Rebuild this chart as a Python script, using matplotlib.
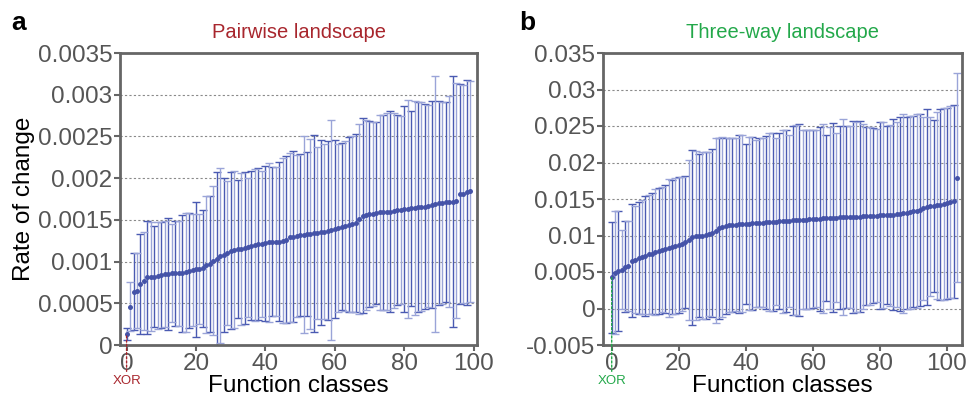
import numpy as np
import matplotlib
matplotlib.use("Agg")
import matplotlib.pyplot as plt

plt.rcParams['font.family'] = ['Liberation Sans', 'DejaVu Sans']

# ---------------- data (values in thousandths) ----------------
pair_mean = [0.13, 0.46, 0.64, 0.65, 0.73, 0.77, 0.81, 0.82, 0.82, 0.83,
             0.84, 0.85, 0.85, 0.86, 0.86, 0.86, 0.86, 0.87, 0.89, 0.90,
             0.91, 0.91, 0.92, 0.96, 0.97, 1.01, 1.03, 1.07, 1.08, 1.10,
             1.13, 1.14, 1.15, 1.15, 1.16, 1.17, 1.19, 1.20, 1.21, 1.21,
             1.22, 1.23, 1.24, 1.24, 1.24, 1.25, 1.26, 1.29, 1.30, 1.31,
             1.32, 1.32, 1.33, 1.33, 1.34, 1.34, 1.35, 1.36, 1.37, 1.38,
             1.39, 1.40, 1.42, 1.43, 1.44, 1.45, 1.46, 1.51, 1.55, 1.56,
             1.57, 1.57, 1.58, 1.59, 1.59, 1.60, 1.60, 1.61, 1.62, 1.62,
             1.63, 1.63, 1.64, 1.64, 1.65, 1.66, 1.66, 1.67, 1.68, 1.69,
             1.70, 1.70, 1.71, 1.72, 1.72, 1.73, 1.81, 1.81, 1.83, 1.84]
pair_upper = [0.20, 0.75, 1.10, 1.10, 1.33, 1.36, 1.49, 1.47, 1.43, 1.47,
              1.48, 1.49, 1.52, 1.45, 1.49, 1.49, 1.56, 1.58, 1.58, 1.57,
              1.72, 1.57, 1.62, 1.78, 1.79, 1.90, 2.07, 2.12, 2.00, 1.96,
              2.07, 2.08, 1.98, 2.06, 2.07, 2.00, 2.08, 2.11, 2.12, 2.09,
              2.15, 2.18, 2.13, 2.13, 2.19, 2.24, 2.26, 2.30, 2.32, 2.28,
              2.29, 2.50, 2.31, 2.47, 2.52, 2.37, 2.46, 2.41, 2.44, 2.70,
              2.46, 2.41, 2.42, 2.45, 2.49, 2.51, 2.53, 2.65, 2.72, 2.70,
              2.69, 2.67, 2.67, 2.76, 2.76, 2.78, 2.80, 2.78, 2.76, 2.75,
              2.86, 2.94, 2.81, 2.92, 2.91, 2.91, 2.89, 2.88, 2.92, 3.23,
              2.92, 2.91, 2.91, 2.99, 3.23, 3.14, 3.13, 3.12, 3.18, 3.16]

three_mean = [4.25, 4.93, 5.11, 5.34, 5.71, 5.80, 6.53, 6.71, 6.89, 7.08,
              7.21, 7.40, 7.53, 7.76, 7.90, 8.08, 8.17, 8.26, 8.40, 8.54,
              8.68, 8.86, 9.09, 9.36, 9.73, 10.00, 10.00, 10.00, 10.02, 10.27,
              10.37, 10.64, 10.96, 11.19, 11.28, 11.40, 11.46, 11.50, 11.55, 11.58,
              11.60, 11.62, 11.65, 11.68, 11.72, 11.76, 11.80, 11.85, 11.88, 11.91,
              11.94, 11.97, 12.00, 12.03, 12.06, 12.09, 12.12, 12.15, 12.18, 12.21,
              12.24, 12.27, 12.31, 12.34, 12.37, 12.40, 12.43, 12.46, 12.48, 12.50,
              12.52, 12.54, 12.56, 12.58, 12.60, 12.62, 12.65, 12.68, 12.70, 12.72,
              12.74, 12.76, 12.78, 12.80, 12.87, 12.93, 12.98, 13.04, 13.10, 13.20,
              13.30, 13.40, 13.50, 13.70, 13.88, 14.00, 14.05, 14.12, 14.20, 14.30,
              14.42, 14.55, 14.70, 17.90]
three_upper = [11.87, 13.33, 13.33, 10.73, 11.96, 11.96, 14.25, 14.06, 14.60, 14.90,
               15.40, 15.50, 15.80, 16.35, 16.50, 16.70, 16.90, 17.70, 17.60, 17.90,
               18.00, 18.00, 18.10, 20.30, 21.70, 21.60, 21.20, 21.40, 21.50, 21.50,
               21.90, 23.30, 23.40, 23.50, 23.30, 23.30, 23.40, 23.30, 23.70, 23.70,
               22.60, 23.50, 23.50, 23.10, 23.30, 23.30, 23.60, 24.10, 24.10, 23.40,
               24.00, 24.50, 24.50, 23.80, 25.00, 25.10, 25.30, 24.40, 24.40, 24.50,
               24.40, 24.40, 24.90, 25.30, 23.70, 24.90, 25.40, 24.00, 25.00, 25.90,
               25.00, 25.00, 25.70, 25.60, 25.70, 25.30, 24.80, 24.90, 24.70, 24.60,
               25.50, 25.50, 25.00, 25.20, 25.90, 25.60, 26.30, 26.70, 26.30, 26.40,
               26.40, 26.70, 26.70, 26.30, 27.30, 26.30, 25.80, 26.90, 27.30, 27.40,
               27.50, 27.70, 27.90, 32.20]

pair_yticks = [0, 0.0005, 0.001, 0.0015, 0.002, 0.0025, 0.003, 0.0035]
pair_yticklabels = ["0", "0.0005", "0.001", "0.0015", "0.002", "0.0025", "0.003", "0.0035"]
three_yticks = [-0.005, 0, 0.005, 0.01, 0.015, 0.02, 0.025, 0.03, 0.035]
three_yticklabels = ["-0.005", "0", "0.005", "0.01", "0.015", "0.02", "0.025", "0.03", "0.035"]
xticks = [0, 20, 40, 60, 80, 100]

titles = ["Pairwise landscape", "Three-way landscape"]
panel_letters = ["a", "b"]
xlabel = "Function classes"
ylabel = "Rate of change"
xor_label = "XOR"

# ---------------- style ----------------
BAR_DARK = '#4a5ab2'
BAR_LIGHT = '#9aa4d8'
PT_COL = '#4553a8'
FRAME = '#666666'
TICKTXT = '#555555'
GRID = '#8a8a8a'
TITLE_COLS = ['#a8262d', '#23a84a']

fig = plt.figure(figsize=(9.71, 4.0), dpi=100)
ax1 = fig.add_axes([120/971, 55/400, 357/971, 292/400])
ax2 = fig.add_axes([603/971, 55/400, 359/971, 292/400])


def draw(ax, mean, upper, yticks, yticklabels, xlim, title, tcol, letter, lx):
    m = np.array(mean) * 1e-3
    u = np.array(upper) * 1e-3
    err = u - m
    x = np.arange(len(m))
    for par, col in ((0, BAR_DARK), (1, BAR_LIGHT)):
        sel = (x % 2) == par
        ax.errorbar(x[sel], m[sel], yerr=err[sel], fmt='none', ecolor=col,
                    elinewidth=1.0, capsize=2.9, capthick=1.0, zorder=2)
    ax.plot(x, m, 'o', color=PT_COL, markersize=3.6, markeredgewidth=0, zorder=3)

    ax.set_xlim(*xlim)
    ax.set_ylim(yticks[0], yticks[-1])
    ax.set_yticks(yticks)
    ax.set_yticklabels(yticklabels)
    ax.set_xticks(xticks)
    for yt in yticks[1:-1]:
        ax.axhline(yt, color=GRID, linestyle=(0, (2, 2)), linewidth=0.8, zorder=1)
    for s in ax.spines.values():
        s.set_color(FRAME)
        s.set_linewidth(2.0)
    ax.tick_params(axis='both', colors=FRAME, labelcolor=TICKTXT, labelsize=17.5,
                   length=4, width=1.5, direction='out', pad=1.5)
    ax.set_title(title, color=tcol, fontsize=14.5, pad=11)
    ax.set_xlabel(xlabel, fontsize=17.5, labelpad=0)
    fig.text(lx, 0.942, letter, fontsize=19, fontweight='bold', ha='left', va='center')

    ax.annotate(xor_label, xy=(0, m[0]), xycoords='data',
                xytext=(0, -0.125), textcoords=('data', 'axes fraction'),
                ha='center', va='center', fontsize=9.5, color=tcol,
                arrowprops=dict(arrowstyle='-', linestyle=(0, (1.5, 1.5)), color=tcol,
                                linewidth=1.0, shrinkA=1, shrinkB=0),
                annotation_clip=False, zorder=4)


draw(ax1, pair_mean, pair_upper, pair_yticks, pair_yticklabels, (-1.9, 101),
     titles[0], TITLE_COLS[0], panel_letters[0], 11/971)
draw(ax2, three_mean, three_upper, three_yticks, three_yticklabels, (-2.6, 104.5),
     titles[1], TITLE_COLS[1], panel_letters[1], 519/971)
ax1.set_ylabel(ylabel, fontsize=17.5, labelpad=2)

fig.savefig('out.png', dpi=100)
